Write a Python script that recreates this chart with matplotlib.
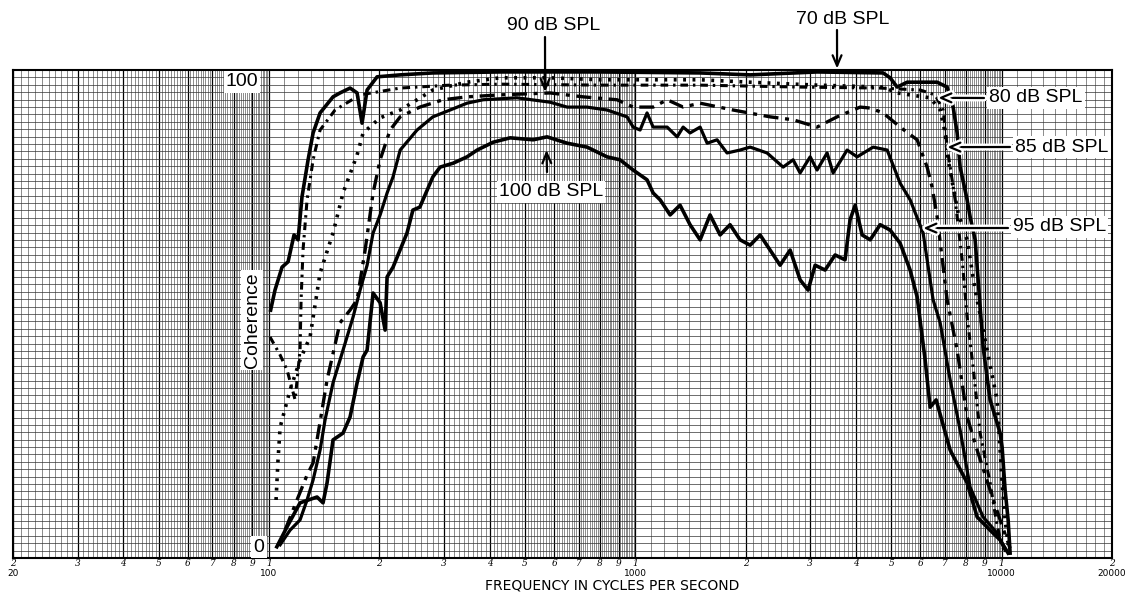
import numpy as np
import matplotlib.pyplot as plt
import matplotlib.patheffects as pe
from matplotlib.transforms import blended_transform_factory

plt.rcParams['font.family'] = 'sans-serif'
plt.rcParams['font.sans-serif'] = ['Liberation Sans', 'DejaVu Sans']

# Coherence curves (frequency in Hz, coherence in %)
freq_70 = [101, 103.8, 108.5, 112.7, 117, 120, 123, 127.8, 131.9, 137.8, 149.5, 156.2, 166.4,
           173.9, 179.4, 185.2, 197.2, 228, 280, 427, 800, 1500, 2057, 3133, 4746, 4959, 5183,
           5519, 6664, 7096, 7369, 7556, 7700, 8046, 8199, 8462, 8897, 9297, 9899, 10025,
           10216, 10411, 10541]
coh_70 = [50.8, 54.9, 59.6, 60.7, 66.2, 65.2, 74.0, 81.6, 87.1, 91.2, 94.5, 95.3, 96.3,
          95.3, 89.1, 95.9, 98.6, 99.0, 99.4, 99.6, 99.6, 99.4, 99.0, 99.6, 99.4, 98.4, 96.5,
          97.5, 97.5, 96.5, 92.4, 87.1, 80.1, 73.4, 69.9, 65.2, 43.2, 32.4, 25.6, 22.7,
          13.9, 7.8, 1.0]

freq_80 = [104.5, 105.8, 107.2, 114.1, 121.5, 129.4, 137.8, 149.5, 159.2, 173.9, 180.6, 201,
           228, 253.5, 280, 347, 427, 585, 801, 1502, 2057, 3133, 4746, 5183, 5623, 6376,
           6791, 7008, 7141, 7369, 7603, 8046, 8462, 9123, 9714, 9899, 10025, 10216, 10411]
coh_80 = [11.9, 20.1, 26.8, 34.4, 40.6, 45.3, 58.4, 66.6, 74.8, 82.6, 87.1, 90.2,
          91.8, 93.9, 95.9, 97.5, 98.4, 98.4, 98.0, 98.0, 97.5, 96.9, 96.5, 95.3, 94.9, 94.3,
          91.8, 87.1, 81.6, 76.0, 70.7, 65.2, 54.9, 42.6, 32.4, 22.1, 15.4, 7.8, 2.7]

freq_85 = [100.6, 107.2, 112.0, 117.8, 121.5, 122.3, 123.8, 127.0, 131.9, 137.8, 151.4, 177.2,
           228, 312, 427, 801, 1502, 2816, 4657, 5988, 6580, 6921, 7096, 7462, 7798, 8046,
           8356, 8730, 9297, 9654, 10025]
coh_85 = [45.3, 41.6, 38.5, 32.4, 42.6, 52.9, 63.1, 73.4, 81.6, 87.7, 91.8, 94.9,
          96.3, 96.9, 97.1, 96.9, 96.9, 96.5, 96.3, 95.9, 94.9, 91.8, 84.2, 73.4, 61.1, 49.4,
          39.1, 25.6, 15.4, 7.8, 2.0]

freq_90 = [110.6, 119.2, 127.0, 131.9, 135.2, 144.0, 156.2, 166.4, 173.9, 182.9, 192.3, 201,
           214, 228, 258, 298.5, 347, 427, 585, 720, 891, 986, 1118, 1221, 1350, 1502, 1848,
           2332, 2695, 3133, 3553, 4107, 4374, 4746, 5281, 5876, 6257, 6457, 6664, 7096,
           7556, 8046, 8569, 9297, 9899, 10541]
coh_90 = [5.7, 11.9, 17.0, 19.5, 24.2, 36.5, 48.2, 50.8, 52.9, 63.1, 74.8, 81.6,
          87.7, 90.4, 92.4, 93.9, 94.5, 94.9, 95.3, 94.5, 93.9, 92.4, 92.4, 93.9, 92.4, 93.2, 91.8,
          90.4, 89.8, 88.3, 90.4, 92.4, 92.2, 91.2, 88.3, 85.7, 80.1, 76.0, 69.9, 52.9,
          42.6, 28.9, 22.1, 13.9, 7.8, 2.0]

freq_95 = [107.2, 114.1, 121.5, 127.0, 131.9, 137.8, 142.2, 149.5, 159.2, 169.6, 177.2, 185.2,
           192.3, 201, 210, 218, 228, 253.5, 280, 312, 347, 384, 475, 585, 651, 738, 837, 949,
           986, 1030, 1076, 1118, 1221, 1300, 1350, 1410, 1502, 1570, 1671, 1779, 1931, 2057,
           2288, 2531, 2695, 2816, 3000, 3133, 3337, 3465, 3784, 4030, 4457, 4867, 5281, 5623,
           6102, 6497, 6791, 7232, 7700, 8199, 8897, 9714, 10216]
coh_95 = [2.7, 5.7, 7.8, 11.9, 16.0, 22.1, 28.3, 35.9, 42.6, 49.4, 54.9, 60.0,
          66.6, 70.3, 74.8, 78.1, 83.6, 87.7, 90.4, 91.8, 93.2, 93.9, 94.3, 93.4, 92.4, 92.4, 91.8, 90.4,
          88.3, 87.7, 91.2, 88.3, 88.3, 86.3, 88.3, 87.1, 88.3, 85.0, 85.7, 83.0, 83.6, 84.2,
          83.0, 80.1, 81.6, 78.9, 82.2, 79.5, 83.0, 78.9, 83.6, 82.2, 84.2, 83.6, 76.8, 73.4,
          66.6, 52.9, 48.2, 36.5, 26.2, 14.5, 8.4, 5.1, 1.6]

freq_100 = [105, 112.0, 121.5, 135.2, 140.4, 144.0, 149.5, 159.2, 166.4, 173.9, 180.6, 185.2,
            192.3, 201, 207.4, 210, 218, 238, 247, 258, 280, 293, 318, 347, 370, 409, 455, 526,
            574, 651, 738, 837, 908, 986, 1076, 1118, 1168, 1244, 1324, 1410, 1502, 1599, 1703,
            1813, 1931, 2057, 2190, 2332, 2483, 2645, 2816, 2961, 3095, 3295, 3509, 3735, 3855,
            3980, 4159, 4374, 4657, 4959, 5281, 5623, 5876, 6179, 6376, 6622, 7232, 8046, 8569,
            9297, 9899, 10411]
coh_100 = [2.3, 6.4, 11.3, 12.5, 11.3, 15.4, 24.2, 25.6, 28.9, 35.9, 41.2, 42.6,
           54.3, 52.3, 46.7, 57.6, 59.6, 66.6, 71.3, 71.9, 78.1, 80.1, 80.9, 82.2, 83.6, 85.2, 86.1, 85.7,
           86.3, 85.0, 84.2, 82.2, 81.6, 79.5, 77.5, 74.8, 73.4, 70.3, 72.3, 68.3, 65.2, 70.3, 66.2,
           68.3, 65.2, 64.1, 66.2, 63.1, 60.0, 63.1, 57.0, 54.9, 60.0, 59.0, 62.1, 61.1, 69.3,
           72.3, 66.2, 65.2, 68.3, 67.2, 64.5, 59.0, 53.5, 40.6, 30.9, 32.4, 22.1, 15.4, 8.4,
           5.7, 3.7, 1.0]

# frequency axis labels printed on the chart paper
tick_freqs = [20, 30, 40, 50, 60, 70, 80, 90, 100, 200, 300, 400, 500, 600, 700, 800, 900,
              1000, 2000, 3000, 4000, 5000, 6000, 7000, 8000, 9000, 10000, 20000]
tick_digits = ['2', '3', '4', '5', '6', '7', '8', '9', '1', '2', '3', '4', '5', '6', '7', '8', '9',
               '1', '2', '3', '4', '5', '6', '7', '8', '9', '1', '2']
decade_freqs = [20, 100, 1000, 10000, 20000]
decade_labels = ['20', '100', '1000', '10000', '20000']

W, H = 1128, 593
fig = plt.figure(figsize=(W / 100, H / 100), dpi=100)
ax = fig.add_axes([13 / W, 35 / H, 1099 / W, 488 / H])
ax.set_xscale('log')
ax.set_xlim(20, 20000)
ax.set_ylim(0, 100)
ax.set_xticks([])
ax.set_yticks([])
ax.minorticks_off()
for s in ax.spines.values():
    s.set_linewidth(1.5)

# graph paper grid
fine, major = [], []
for d in [10, 100, 1000, 10000]:
    for k in np.round(np.arange(1.0, 10.0, 0.1), 1):
        f = k * d
        if f < 20 or f > 20000:
            continue
        if float(k).is_integer():
            major.append(f)
        else:
            fine.append(f)
ax.vlines(fine, 0, 100, colors='0.25', lw=0.42, zorder=1)
ax.vlines(major, 0, 100, colors='black', lw=0.9, zorder=1)
hl = np.linspace(0, 100, 67)
ax.hlines(hl, 20, 20000, colors='0.2', lw=0.5, zorder=1)

# curves
ax.plot(freq_70, coh_70, color='black', lw=2.6, zorder=3)
ax.plot(freq_80, coh_80, color='black', lw=2.6, ls=(0, (0.8, 1.8)), zorder=3)
ax.plot(freq_85, coh_85, color='black', lw=2.2, ls=(0, (2.5, 1.6, 0.8, 1.6)), zorder=3)
ax.plot(freq_90, coh_90, color='black', lw=2.4, ls=(0, (4.5, 2, 1.2, 2)), zorder=3)
ax.plot(freq_95, coh_95, color='black', lw=2.3, zorder=3)
ax.plot(freq_100, coh_100, color='black', lw=2.6, zorder=3)

# paper labels along the bottom
trans = blended_transform_factory(ax.transData, ax.transAxes)
for f, s in zip(tick_freqs, tick_digits):
    ax.text(f, -0.0103, s, transform=trans, ha='center', va='center', fontsize=6.5,
            family='DejaVu Serif', style='italic', clip_on=False)
for f, s in zip(decade_freqs, decade_labels):
    ax.text(f, -0.0318, s, transform=trans, ha='center', va='center', fontsize=6.5,
            family='DejaVu Sans', clip_on=False)
fig.text(612 / W, 1 - 589.5 / H, 'FREQUENCY IN CYCLES PER SECOND', ha='center',
         va='baseline', fontsize=10, family='DejaVu Sans')


def fxy(x, y):
    return x / W, 1 - y / H


white = dict(facecolor='white', edgecolor='none', pad=1.5)
fig.text(*fxy(242, 82), '100', ha='center', va='center', fontsize=14, bbox=white, zorder=6)
fig.text(*fxy(259, 547), '0', ha='center', va='center', fontsize=14, bbox=white, zorder=6)
fig.text(*fxy(252, 320), 'Coherence', ha='center', va='center', rotation=90, fontsize=14,
         bbox=white, zorder=6)

fig.text(*fxy(554, 26), '90 dB SPL', ha='center', va='center', fontsize=14)
fig.text(*fxy(843, 19), '70 dB SPL', ha='center', va='center', fontsize=14)
fig.text(*fxy(551, 192), '100 dB SPL', ha='center', va='center', fontsize=14, bbox=white, zorder=6)
fig.text(*fxy(989, 98), '80 dB SPL', ha='left', va='center', fontsize=14, bbox=white, zorder=6)
fig.text(*fxy(1015, 147), '85 dB SPL', ha='left', va='center', fontsize=14, bbox=white, zorder=6)
fig.text(*fxy(1013, 227), '95 dB SPL', ha='left', va='center', fontsize=14, bbox=white, zorder=6)

arrow = dict(arrowstyle='->,head_length=0.75,head_width=0.32', lw=1.6, color='black',
             shrinkA=0, shrinkB=0)
arrow_w = dict(arrow, path_effects=[pe.Stroke(linewidth=5, foreground='white'), pe.Normal()])
# (tip in data coords, tail in figure pixels)
ax.annotate('', xy=(567, 95.5), xytext=(545, H - 37), textcoords='figure pixels',
            arrowprops=arrow, annotation_clip=False, zorder=6)
ax.annotate('', xy=(3553, 100.3), xytext=(837, H - 30), textcoords='figure pixels',
            arrowprops=arrow, annotation_clip=False, zorder=6)
ax.annotate('', xy=(572, 83.6), xytext=(547, H - 172), textcoords='figure pixels',
            arrowprops=arrow, zorder=6)
ax.annotate('', xy=(6706, 94.3), xytext=(984, H - 98), textcoords='figure pixels',
            arrowprops=arrow_w, zorder=6)
ax.annotate('', xy=(7096, 84.2), xytext=(1010, H - 147), textcoords='figure pixels',
            arrowprops=arrow_w, zorder=6)
ax.annotate('', xy=(6102, 67.6), xytext=(1008, H - 228), textcoords='figure pixels',
            arrowprops=arrow_w, zorder=6)

fig.savefig('out.png', dpi=100)
